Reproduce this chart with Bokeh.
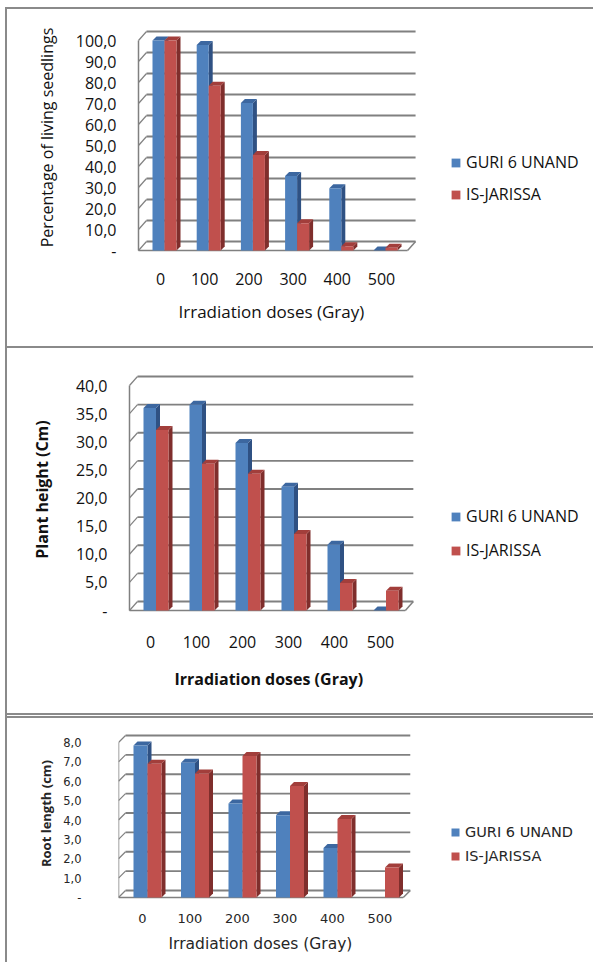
import math
from bokeh.plotting import figure
from bokeh.models import Range1d, FixedTicker, Legend, LegendItem, Title
from bokeh.layouts import column
from bokeh.embed import file_html
from bokeh.resources import INLINE

# ---------------- data ----------------
doses = ["0", "100", "200", "300", "400", "500"]
series_names = ["GURI 6 UNAND", "IS-JARISSA"]

survival_guri = [100.0, 97.8, 70.2, 35.5, 29.7, 0.0]
survival_jarissa = [100.0, 78.5, 45.5, 13.0, 2.0, 1.3]
survival_ticks = [0, 10, 20, 30, 40, 50, 60, 70, 80, 90, 100]

height_guri = [36.0, 36.6, 29.8, 22.0, 11.7, 0.0]
height_jarissa = [32.1, 26.1, 24.3, 13.6, 4.9, 3.5]
height_ticks = [0, 5, 10, 15, 20, 25, 30, 35, 40]

root_guri = [7.85, 6.95, 4.85, 4.25, 2.55, float("nan")]
root_jarissa = [6.9, 6.4, 7.3, 5.75, 4.05, 1.55]
root_ticks = [0, 1, 2, 3, 4, 5, 6, 7, 8]

# ---------------- style / layout ----------------
W = 593
FL = 118          # common frame left (px)
FR = 588          # common frame right (px)
BLUE = dict(front="#4F81BD", side="#2F5183", top="#3C67A0")
RED = dict(front="#C0504D", side="#7F2E2C", top="#A23E3B")
GRID = "#808080"
BC = "#8a8a8a"


def line_bg(x, y, w, h):
    return f"linear-gradient({BC},{BC}) {x} {y} / {w} {h} no-repeat"


def fmt(t):
    if t == 0:
        return "-"
    return f"{t:.1f}".replace(".", ",")


def build(cfg, guri, jarissa, ticks, y_title, x_title):
    sx = cfg["cat_px"]
    xa = (FL - cfg["cat0"]) / sx
    xb = (FR - cfg["cat0"]) / sx
    xfa = (cfg["axis_px"] - cfg["cat0"]) / sx
    ymax = ticks[-1]
    sy = (cfg["zero_px"] - cfg["ttp"]) / ymax
    ya = -2.0 / sy
    yb = (cfg["zero_px"] - cfg["ft"]) / sy
    H = cfg["H"]
    fb = cfg["zero_px"] + 2
    p = figure(width=W, height=H, x_range=Range1d(xa, xb), y_range=Range1d(ya, yb),
               output_backend="svg", toolbar_location=None,
               min_border_left=FL, min_border_right=W - FR,
               min_border_top=cfg["ft"], min_border_bottom=H - fb,
               outline_line_color=None, background_fill_color=None,
               border_fill_color=None, styles={"background": cfg["bg"]})
    p.grid.visible = False

    xf = cfg["xf"]
    wdx = cfg["wdx"] / sx
    wdy = cfg["wdy"] / sy
    n = len(ticks)
    # back wall gridlines
    p.segment(x0=[xfa + wdx] * n, y0=[t + wdy for t in ticks],
              x1=[xf + wdx] * n, y1=[t + wdy for t in ticks],
              line_color=GRID, line_width=1.8)
    # diagonal connectors from front axis to back wall
    p.segment(x0=[xfa] * n, y0=list(ticks), x1=[xfa + wdx] * n, y1=[t + wdy for t in ticks],
              line_color=GRID, line_width=1.2)
    # front vertical axis, floor front edge and floor right edge
    p.segment(x0=[xfa, xfa, xf], y0=[0, 0, 0], x1=[xfa, xf, xf + wdx], y1=[ymax, 0, wdy],
              line_color=GRID, line_width=1.5)

    ddx = cfg["depth"] / sx
    ddy = cfg["depth"] / sy
    bw = cfg["bw"] / sx
    renderers = []
    for k, (vals, col) in enumerate([(guri, BLUE), (jarissa, RED)]):
        off = (cfg["boff"] + k * cfg["bw"]) / sx
        L, R, T, sxs, sys_, txs, tys = [], [], [], [], [], [], []
        for i, v in enumerate(vals):
            if isinstance(v, float) and math.isnan(v):
                continue
            l = i + off
            r = l + bw
            L.append(l); R.append(r); T.append(v)
            sxs.append([r, r + ddx, r + ddx, r]); sys_.append([0, ddy, v + ddy, v])
            txs.append([l, l + ddx, r + ddx, r]); tys.append([v, v + ddy, v + ddy, v])
        p.patches(xs=sxs, ys=sys_, fill_color=col["side"], line_color=None)
        p.patches(xs=txs, ys=tys, fill_color=col["top"], line_color=None)
        q = p.quad(left=L, right=R, bottom=[0] * len(T), top=T,
                   fill_color=col["front"], line_color=None)
        renderers.append(q)

    # axes
    xax = p.xaxis[0]
    xax.ticker = FixedTicker(ticks=list(range(len(doses))))
    xax.major_label_overrides = {i: d for i, d in enumerate(doses)}
    xax.axis_line_color = None
    xax.major_tick_line_color = None
    xax.minor_tick_line_color = None
    xax.major_label_standoff = cfg["xls"]
    xax.major_label_text_font = cfg["tick_font"]
    xax.major_label_text_font_size = cfg["cat_size"]
    xax.major_label_text_color = cfg["color"]

    yax = p.yaxis[0]
    yax.ticker = FixedTicker(ticks=list(ticks))
    yax.major_label_overrides = {t: fmt(t) for t in ticks}
    yax.axis_line_color = None
    yax.major_tick_line_color = None
    yax.minor_tick_line_color = None
    yax.major_label_standoff = cfg["yls"]
    yax.axis_label = y_title
    yax.axis_label_standoff = cfg["yts"]
    yax.major_label_text_font = cfg["tick_font"]
    yax.major_label_text_font_size = cfg["tick_size"]
    yax.major_label_text_color = cfg["color"]
    yax.axis_label_text_color = cfg["color"]
    yax.axis_label_text_font = cfg["yt_font"]
    yax.axis_label_text_font_size = cfg["yt_size"]
    yax.axis_label_text_font_style = cfg["yt_style"]

    # x axis title, placed under the category labels
    xt = Title(text=x_title, align="left", offset=cfg["xt_off"], standoff=cfg["xts"],
               text_font=cfg["xt_font"], text_font_size=cfg["xt_size"],
               text_font_style=cfg["xt_style"], text_color=cfg["color"])
    p.add_layout(xt, "below")

    legend = Legend(items=[LegendItem(label=series_names[0], renderers=[renderers[0]]),
                           LegendItem(label=series_names[1], renderers=[renderers[1]])],
                    location=(cfg["lx"], cfg["ly"]), orientation="vertical",
                    padding=0, margin=0, spacing=cfg["lsp"],
                    glyph_width=cfg["lg"], glyph_height=cfg["lg"],
                    label_height=cfg["lh"], label_standoff=5,
                    label_text_font=cfg["leg_font"], label_text_font_size=cfg["leg_size"],
                    label_text_color=cfg["color"],
                    border_line_color=None, background_fill_alpha=0)
    p.add_layout(legend)
    return p


P1 = dict(H=348, ft=22, zero_px=250, ttp=40, axis_px=138, cat0=160, cat_px=44.2, xf=5.59,
          boff=-8, bw=12, depth=4, wdx=8, wdy=9, xls=14, xts=20, yls=-4, yts=15, xt_off=60,
          color="#111111", tick_font="Open Sans", tick_size="16px", cat_size="16px",
          xt_font="Open Sans", xt_size="17px", xt_style="normal",
          yt_font="Open Sans", yt_size="16px", yt_style="normal",
          lx=332, ly=47, lsp=10, lg=11, lh=22, leg_font="Open Sans", leg_size="16px",
          bg=", ".join([line_bg("5px", "7px", "100%", "2px"),
                        line_bg("5px", "7px", "2px", "100%"),
                        line_bg("5px", "346px", "100%", "2px")]))
P2 = dict(H=367, ft=18, zero_px=262, ttp=37, axis_px=129, cat0=150, cat_px=46, xf=5.54,
          boff=-7, bw=12.5, depth=4, wdx=8, wdy=9, xls=17, xts=30, yls=5, yts=20, xt_off=56,
          color="#111111", tick_font="Open Sans", tick_size="16px", cat_size="16px",
          xt_font="Open Sans", xt_size="16px", xt_style="bold",
          yt_font="Open Sans", yt_size="16px", yt_style="bold",
          lx=332, ly=51, lsp=12, lg=11, lh=22, leg_font="Open Sans", leg_size="16px",
          bg=", ".join([line_bg("5px", "0px", "2px", "100%"),
                        line_bg("5px", "365px", "100%", "2px")]))
P3 = dict(H=247, ft=12, zero_px=182, ttp=27, axis_px=118, cat0=142, cat_px=47.5, xf=5.49,
          boff=-9, bw=14, depth=4, wdx=7, wdy=7, xls=8, xts=15, yls=31, yts=5, xt_off=50,
          color="#262626", tick_font="DejaVu Sans", tick_size="11.5px", cat_size="13px",
          xt_font="DejaVu Sans", xt_size="15.5px", xt_style="normal",
          yt_font="Open Sans", yt_size="13px", yt_style="bold",
          lx=332, ly=35, lsp=7, lg=10, lh=17, leg_font="DejaVu Sans", leg_size="14.5px",
          bg=", ".join([line_bg("5px", "0px", "2px", "100%"),
                        line_bg("5px", "1px", "100%", "2px")]))

p1 = build(P1, survival_guri, survival_jarissa, survival_ticks,
           "Percentage of living seedlings", "Irradiation doses (Gray)")
p2 = build(P2, height_guri, height_jarissa, height_ticks,
           "Plant height (Cm)", "Irradiation doses (Gray)")
p3 = build(P3, root_guri, root_jarissa, root_ticks,
           "Root length (cm)", "Irradiation doses (Gray)")

page = column(p1, p2, p3, spacing=0)
open("out.html", "w").write(file_html(page, INLINE))
